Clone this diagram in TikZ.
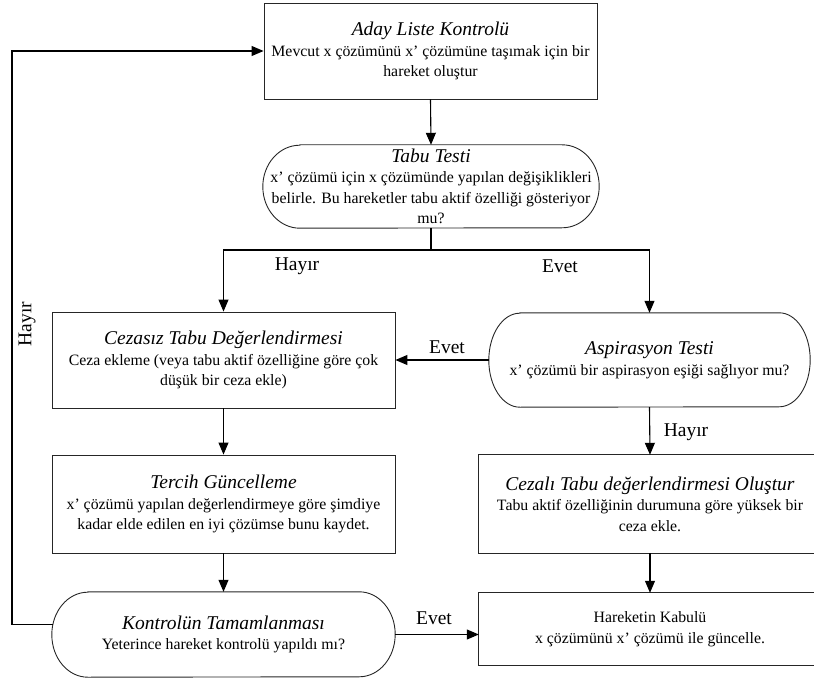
\documentclass[tikz,border=0pt]{standalone}
\usepackage{fontspec}
\setmainfont{Liberation Serif}
\usetikzlibrary{arrows.meta,calc}

\tikzset{
  box/.style={draw=black!85, line width=0.9pt},
  textblock/.style={inner sep=0pt, align=center,
    font=\fontsize{15.8}{20.5}\selectfont},
  rectbox/.style={textblock, box, rectangle},
  roundbox/.style={textblock, rectangle},
  conn/.style={line width=1.1pt, black},
  arr/.style={conn, -{Triangle[length=12pt,width=10pt]}},
  lbl/.style={inner sep=0pt, font=\fontsize{19.5}{22}\selectfont},
}
\newcommand\ttl[1]{{\fontsize{19.5}{20.5}\selectfont\itshape #1}}
% stadium outline around a named node: node, x radius, y radius
\newcommand\stadiumoutline[3]{%
  \draw[box] ([xshift=#2]#1.north west) -- ([xshift=-#2]#1.north east)
    arc[start angle=90, end angle=-90, x radius=#2, y radius=#3]
    -- ([xshift=#2]#1.south west)
    arc[start angle=270, end angle=90, x radius=#2, y radius=#3] -- cycle;}

\begin{document}
\begin{tikzpicture}[x=1pt, y=-1pt]
\useasboundingbox (0,0) rectangle (814,679);
\clip (0,0) rectangle (814,679);

% process boxes
\node[rectbox, minimum width=333pt, minimum height=96pt] (top) at (430.5,51)
  {\ttl{Aday Liste Kontrolü}\\Mevcut x çözümünü x’ çözümüne taşımak için bir\\hareket oluştur};

\node[roundbox, minimum width=336pt, minimum height=83pt] (tabu) at (431,186.5)
  {\ttl{Tabu Testi}\\x’ çözümü için x çözümünde yapılan değişiklikleri\\belirle. Bu hareketler tabu aktif özelliği gösteriyor\\mu?};
\stadiumoutline{tabu}{37pt}{41.5pt}

\node[rectbox, minimum width=343pt, minimum height=96pt] (cezasiz) at (223.5,360)
  {\ttl{Cezasız Tabu Değerlendirmesi}\\Ceza ekleme (veya tabu aktif özelliğine göre çok\\düşük bir ceza ekle)};

\node[roundbox, minimum width=321pt, minimum height=94pt] (asp) at (649.5,360)
  {\ttl{Aspirasyon Testi}\\x’ çözümü bir aspirasyon eşiği sağlıyor mu?};
\stadiumoutline{asp}{31pt}{47pt}

\node[rectbox, minimum width=343pt, minimum height=98pt] (tercih) at (223.5,504)
  {\ttl{Tercih Güncelleme}\\x’ çözümü yapılan değerlendirmeye göre şimdiye\\kadar elde edilen en iyi çözümse bunu kaydet.};

% the two right-hand boxes run past the right edge of the page
\node[roundbox, minimum width=342pt, minimum height=98pt] (cezali) at (650,504)
  {\ttl{Cezalı Tabu değerlendirmesi Oluştur}\\Tabu aktif özelliğinin durumuna göre yüksek bir\\ceza ekle.};
\draw[box] ([xshift=40pt]cezali.north east) -- (cezali.north west)
  -- (cezali.south west) -- ([xshift=40pt]cezali.south east);

\node[roundbox, minimum width=343pt, minimum height=85pt] (kontrol) at (223.5,634.5)
  {\ttl{Kontrolün Tamamlanması}\\Yeterince hareket kontrolü yapıldı mı?};
\stadiumoutline{kontrol}{36pt}{42.5pt}

\node[roundbox, minimum width=342pt, minimum height=72pt] (hareket) at (650,629)
  {Hareketin Kabulü\\x çözümünü x’ çözümü ile güncelle.};
\draw[box] ([xshift=40pt]hareket.north east) -- (hareket.north west)
  -- (hareket.south west) -- ([xshift=40pt]hareket.south east);

% connectors
\coordinate (split) at (431,250);
\coordinate (loop) at (12,0);
\draw[arr] (top.south) -- (tabu.north);
\draw[conn] (tabu.south) -- (split);
\draw[arr] (split) -| (cezasiz.north);
\draw[arr] (split) -| (asp.north);
\draw[arr] (asp.west) -- (asp.west -| cezasiz.east);
\draw[arr] (cezasiz.south) -- (tercih.north);
\draw[arr] (tercih.south) -- (kontrol.north);
\draw[arr] (asp.south) -- (cezali.north);
\draw[arr] (cezali.south) -- (hareket.north);
\draw[arr] (kontrol.east) -- (kontrol.east -| hareket.west);
\draw[arr] ([xshift=1.3pt,yshift=10pt]kontrol.west) -| (loop |- top.west) -- (top.west);

% branch labels
\node[lbl] (l1) at (297,266) {Hayır};
\node[lbl] (l2) at (560,266) {Evet};
\node[lbl] (l3) at (447,347) {Evet};
\node[lbl] (l4) at (686,432) {Hayır};
\node[lbl] (l5) at (434,618) {Evet};
\node[lbl, rotate=90] (l6) at (27,324) {Hayır};
\end{tikzpicture}
\end{document}
